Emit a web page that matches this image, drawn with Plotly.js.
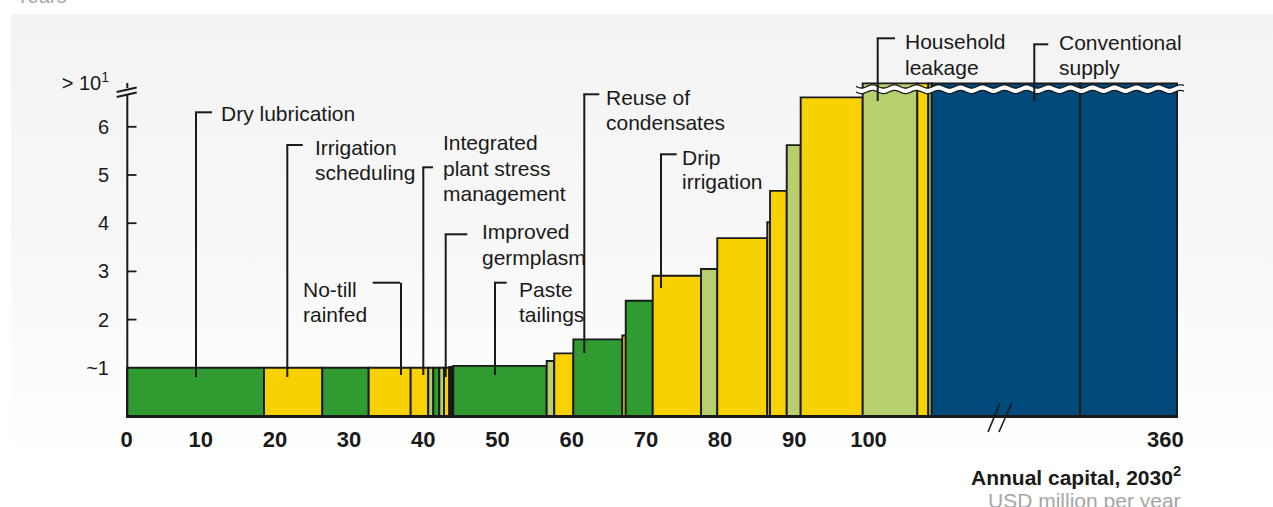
<!DOCTYPE html>
<html><head><meta charset="utf-8">
<script src="https://cdn.plot.ly/plotly-3.0.1.min.js"></script>
<style>
html,body{margin:0;padding:0;background:#fff;}
#wrap{position:relative;width:1273px;height:507px;overflow:hidden;background:#fff;}
#bg{position:absolute;left:11px;top:14px;right:0;bottom:0;background:linear-gradient(to bottom,#f3f3f3 0%,#f7f7f7 40%,#fdfdfd 80%,#ffffff 90%);}
#chart{position:absolute;left:0;top:0;width:1273px;height:507px;}
</style></head><body>
<div id="wrap"><div id="bg"></div><div id="chart"></div></div>
<script>
// ---- DATA ----
// Width of each lever = annual capital, USD million per year (the conventional-supply
// bars are shown compressed across the axis break).
const leverWidths = [18.53, 7.86, 6.25, 5.66, 2.37, 0.68, 0.81, 0.63, 0.71, 0.54,
                     12.59, 1.02, 2.57, 6.60, 0.46, 3.64, 6.51, 2.19, 6.74, 0.37,
                     2.25, 1.88, 8.36, 7.36, 1.48, 0.46, 20.0, 13.07];
// Height = payback, years; null = more than 10 years (above the axis break)
const leverYears = [1.0, 1.0, 1.0, 1.0, 1.0, 1.0, 1.0, 1.0, 1.0, 1.02,
                    1.04, 1.14, 1.30, 1.59, 1.67, 2.39, 2.91, 3.05, 3.69, 4.02,
                    4.67, 5.62, 6.61, null, null, null, null, null];
const leverColorKey = ['green','yellow','green','yellow','yellow','lightgreen','green','lightgreen','yellow','black',
                       'green','lightgreen','yellow','green','yellow','green','yellow','lightgreen','yellow','yellow',
                       'yellow','lightgreen','yellow','lightgreen','yellow','lightgreen','blue','blue'];
const yTickVals = [1, 2, 3, 4, 5, 6];
const yTickText = ['~1', '2', '3', '4', '5', '6'];
const yBreakLabel = '> 10<sup>1</sup>';
const xTickVals = [0, 10, 20, 30, 40, 50, 60, 70, 80, 90, 100, 140];
const xTickText = ['0', '10', '20', '30', '40', '50', '60', '70', '80', '90', '100', '360'];

// ---- STYLE / LAYOUT HELPERS ----
const palette = {green:'#2f9b31', yellow:'#f8d200', lightgreen:'#b8cf6e', black:'#1a1a1a', blue:'#00497b'};
const BREAK_Y = 6.90;           // display level for off-scale bars
const PX0 = 126.5, PXU = 7.42;  // x pixel mapping
const PY0 = 416, PYU = 48.2;    // y pixel mapping
const L = 126, R = 1178, T = 14, B = 416;
const X = px => (px - PX0) / PXU;
const Y = py => (PY0 - py) / PYU;
const PXp = px => (px - L) / (R - L);   // pixel -> paper
const PYp = py => (B - py) / (B - T);
const INK = '#1a1a1a';
const FONT = '"Liberation Sans", Arial, sans-serif';

// bar geometry from widths
const centers = []; let acc = 0;
leverWidths.forEach(w => { centers.push(acc + w / 2); acc += w; });
const heights = leverYears.map(v => v === null ? BREAK_Y : v);

const bars = {
  type: 'bar', x: centers, y: heights, width: leverWidths,
  marker: {color: leverColorKey.map(k => palette[k]), line: {color: INK, width: 1.9}},
  hoverinfo: 'skip', showlegend: false
};

const shapes = [];
const line = (x0, y0, x1, y1, w, c) => shapes.push({type:'line', xref:'paper', yref:'paper',
  x0: PXp(x0), y0: PYp(y0), x1: PXp(x1), y1: PYp(y1), line:{color: c || INK, width: w || 2}});

// y axis with break
line(127.3, 416, 127.3, 95, 2);
line(127.3, 88, 127.3, 83, 2);
line(116.7, 92, 136.7, 87.5, 1.8);
line(116.7, 97, 136.7, 92.5, 1.8);
yTickVals.slice(1).forEach(v => line(127.3, PY0 - v * PYU, 136.5, PY0 - v * PYU, 1.8));
// x axis break
line(988, 432, 1000, 403, 1.6);
line(999, 432, 1011.7, 403, 1.6);

// wavy break across off-scale bars
function wave(py) {
  let s = '';
  for (let px = 856; px <= 1184; px += 1) {
    const y = py + 1.6 * Math.sin((px - 856) / 22 * 2 * Math.PI);
    s += (s ? 'L' : 'M') + PXp(px).toFixed(5) + ',' + PYp(y).toFixed(5);
  }
  return s;
}
shapes.push({type:'path', xref:'paper', yref:'paper', path: wave(89.2), line:{color:'#ffffff', width:5}});
shapes.push({type:'path', xref:'paper', yref:'paper', path: wave(86.4), line:{color:INK, width:1.3}});
shapes.push({type:'path', xref:'paper', yref:'paper', path: wave(92.0), line:{color:INK, width:1.3}});

// labels with leader brackets (pixel placement of callouts)
const callouts = [
  {lines:['Dry lubrication'], vx:196, top:112.3, bot:377, hx:212, tx:221, ty:[113]},
  {lines:['Irrigation','scheduling'], vx:287.3, top:145, bot:377, hx:302.7, tx:315, ty:[146.5,171.5]},
  {lines:['Integrated','plant stress','management'], vx:423.3, top:167.3, bot:375, hx:433, tx:443.3, ty:[141.7,167.3,192.7]},
  {lines:['Improved','germplasm'], vx:445.7, top:234.3, bot:377, hx:467.3, tx:481.7, ty:[230,256]},
  {lines:['No-till','rainfed'], vx:401, top:282.7, bot:375, hx:372.7, tx:303.3, ty:[288.3,313.3]},
  {lines:['Paste','tailings'], vx:495, top:282.7, bot:375, hx:506.7, tx:519.3, ty:[288.3,313.3]},
  {lines:['Reuse of','condensates'], vx:584.3, top:94.3, bot:353, hx:599.3, tx:606, ty:[96,121.7]},
  {lines:['Drip','irrigation'], vx:661, top:154.3, bot:288, hx:676.7, tx:681.7, ty:[156,180]},
  {lines:['Household','leakage'], vx:877.7, top:38.3, bot:101, hx:895, tx:905, ty:[40.7,66]},
  {lines:['Conventional','supply'], vx:1034.3, top:44.3, bot:101, hx:1048.3, tx:1059.3, ty:[41.7,66.7]}
];
const annotations = [];
callouts.forEach(c => {
  line(c.vx, c.top, c.vx, c.bot, 2);
  line(c.vx - 1, c.top, c.hx, c.top, 2);
  c.lines.forEach((t, i) => annotations.push({xref:'paper', yref:'paper', x:PXp(c.tx - 2), y:PYp(c.ty[i] + 1),
    text:t, showarrow:false, xanchor:'left', yanchor:'middle',
    font:{family:FONT, size:21, color:INK}}));
});

// axis titles and cut-off header
annotations.push({xref:'paper', yref:'paper', x:PXp(1183), y:PYp(476), text:'Annual capital, 2030<sup>2</sup>',
  showarrow:false, xanchor:'right', yanchor:'middle', font:{family:FONT, size:21, color:INK, weight:'bold'}});
annotations.push({xref:'paper', yref:'paper', x:PXp(1183), y:PYp(500), text:'USD million per year',
  showarrow:false, xanchor:'right', yanchor:'middle', font:{family:FONT, size:21, color:'#a6a6a6'}});
annotations.push({xref:'paper', yref:'paper', x:PXp(14), y:1, yshift:5, text:'Years',
  showarrow:false, xanchor:'left', yanchor:'bottom', font:{family:FONT, size:20, color:'#a6a6a6'}});

const layout = {
  width: 1273, height: 507,
  margin: {l: L, r: 1273 - R, t: T, b: 507 - B, pad: 0},
  paper_bgcolor: 'rgba(0,0,0,0)', plot_bgcolor: 'rgba(0,0,0,0)',
  showlegend: false,
  xaxis: {range: [X(L), X(R)], showgrid: false, zeroline: false, showline: true,
    linecolor: INK, linewidth: 2, ticks: '', tickmode: 'array', tickvals: xTickVals, ticktext: xTickText,
    tickfont: {family: FONT, size: 22, color: INK, weight: 'bold'}, ticklabelstandoff: 3, fixedrange: true},
  yaxis: {range: [0, Y(T)], showgrid: false, zeroline: false, showline: false, ticks: '',
    tickmode: 'array', tickvals: yTickVals.concat([BREAK_Y]), ticktext: yTickText.concat([yBreakLabel]),
    tickfont: {family: FONT, size: 20, color: INK}, ticklabelstandoff: 16, fixedrange: true},
  shapes: shapes, annotations: annotations
};
Plotly.newPlot('chart', [bars], layout, {displayModeBar: false, staticPlot: true});
</script>
</body></html>
